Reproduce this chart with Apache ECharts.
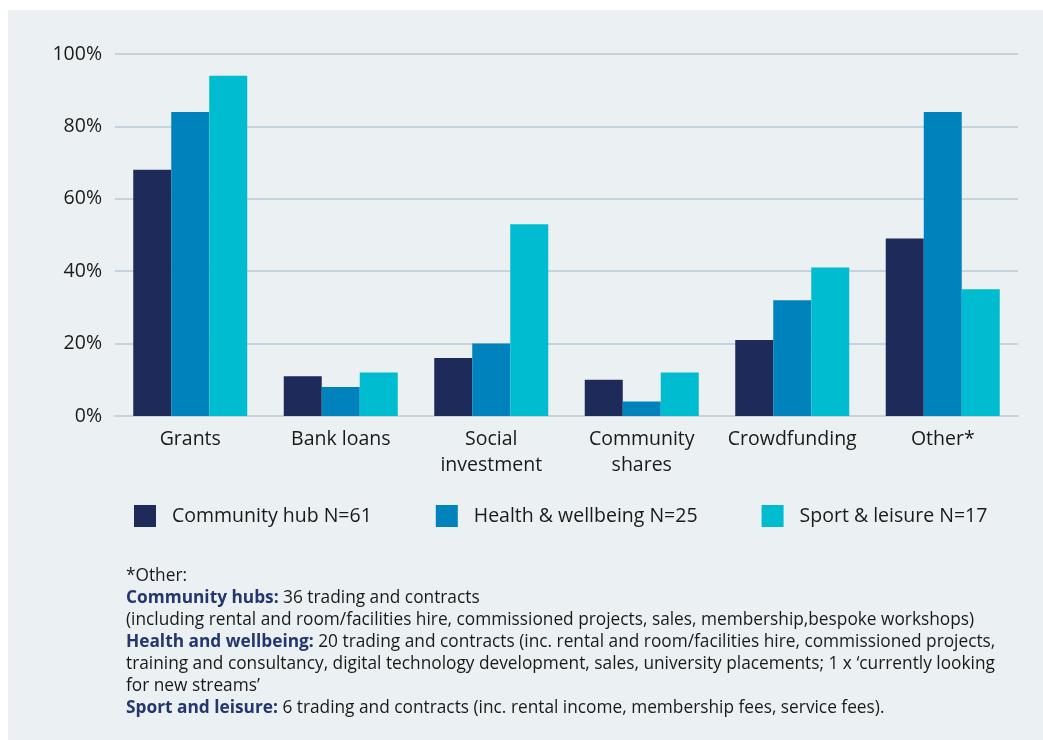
<!DOCTYPE html>
<html>
<head>
<meta charset="utf-8">
<script src="https://cdn.jsdelivr.net/npm/echarts@6/dist/echarts.min.js"></script>
<style>
  html, body { margin: 0; padding: 0; background: #ffffff; }
  #chart { width: 1043px; height: 740px; }
</style>
</head>
<body>
<div id="chart"></div>
<script>
// Funding sources by organisation type (% of respondents)
const categories = ['Grants', 'Bank loans', 'Social\ninvestment', 'Community\nshares', 'Crowdfunding', 'Other*'];
const seriesNames = ['Community hub N=61', 'Health & wellbeing N=25', 'Sport & leisure N=17'];
const communityHub = [68, 11, 16, 10, 21, 49];
const healthWellbeing = [84, 8, 20, 4, 32, 84];
const sportLeisure = [94, 12, 53, 12, 41, 35];
const yTicks = [0, 20, 40, 60, 80, 100];

const colors = ['#1e2a5a', '#0083bc', '#00bcd0'];
const FONT = '"Open Sans", "Noto Sans", sans-serif';

const footnoteLines = [
  '*Other:',
  '{b|Community hubs:} 36 trading and contracts',
  '(including rental and room/facilities hire, commissioned projects, sales, membership,bespoke workshops)',
  '{b|Health and wellbeing:} 20 trading and contracts (inc. rental and room/facilities hire, commissioned projects,',
  'training and consultancy, digital technology development, sales, university placements; 1 x \u2018currently looking',
  'for new streams\u2019',
  '{b|Sport and leisure:} 6 trading and contracts (inc. rental income, membership fees, service fees).'
];

const chart = echarts.init(document.getElementById('chart'));

const barData = [communityHub, healthWellbeing, sportLeisure];

chart.setOption({
  animation: false,
  textStyle: { fontFamily: FONT },
  graphic: [
    {
      type: 'rect',
      z: -10,
      shape: { x: 8, y: 10, width: 1035, height: 730 },
      style: { fill: '#ebf0f3' }
    },
    {
      type: 'text',
      left: 126,
      top: 565,
      style: {
        text: footnoteLines.join('\n'),
        font: '17.3px ' + FONT,
        fill: '#1a1a1a',
        lineHeight: 22,
        rich: {
          b: { fontWeight: 'bold', fill: '#24366e', fontSize: 17.3, fontFamily: FONT, lineHeight: 22 }
        }
      }
    }
  ],
  legend: {
    left: 134,
    top: 505,
    padding: 0,
    itemWidth: 22,
    itemHeight: 22,
    itemGap: 64,
    icon: 'rect',
    textStyle: { fontSize: 19.5, color: '#1a1a1a', fontFamily: FONT, padding: [0, 0, 0, 11] },
    data: seriesNames
  },
  grid: { left: 115, right: 25, top: 54, bottom: 324, containLabel: false },
  xAxis: {
    type: 'category',
    data: categories,
    axisTick: { show: false },
    axisLine: { lineStyle: { color: '#c5d3dc', width: 2 } },
    axisLabel: { fontSize: 19.5, color: '#1a1a1a', lineHeight: 26, margin: 10, interval: 0, fontFamily: FONT }
  },
  yAxis: {
    type: 'value',
    min: yTicks[0],
    max: yTicks[yTicks.length - 1],
    interval: 20,
    axisLabel: { formatter: '{value}%', fontSize: 19.5, color: '#1a1a1a', margin: 13, fontFamily: FONT },
    splitLine: { lineStyle: { color: '#c5d3dc', width: 2 } },
    axisLine: { show: false },
    axisTick: { show: false }
  },
  series: seriesNames.map((name, i) => ({
    name: name,
    type: 'bar',
    data: barData[i],
    barWidth: 38,
    barGap: '0%',
    itemStyle: { color: colors[i] }
  }))
});
</script>
</body>
</html>
